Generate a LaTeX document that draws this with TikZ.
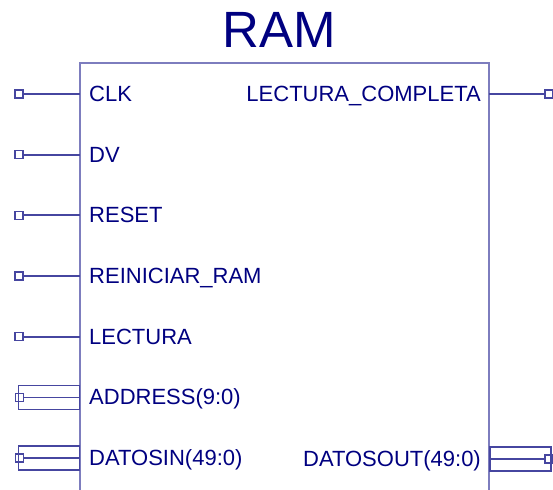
\documentclass[tikz,border=0pt]{standalone}
\usepackage{fontspec}
\setmainfont{Liberation Sans}
\usetikzlibrary{positioning}
\definecolor{pintext}{RGB}{0,0,128}
\definecolor{boxline}{RGB}{125,125,190}
\definecolor{pinline}{RGB}{70,70,160}
\tikzset{
	pinlabel/.style={text=pintext,font=\fontsize{22}{22}\selectfont,inner sep=0pt},
	pinsq/.style={draw=pinline,line width=1.4pt,minimum size=8pt,inner sep=0pt},
	wire/.style={pinline,line width=1.7pt},
	busbox/.style={draw=pinline,line width=1.5pt,minimum width=61pt,minimum height=24pt,inner sep=0pt},
}

\begin{document}
\begin{tikzpicture}[x=1pt,y=-1pt]
	\useasboundingbox (0,0) rectangle (553,489);
	\clip (0,0) rectangle (553,489);
	\draw[boxline,line width=2.4pt] (80,495) -- (80,63) -- (489,63) -- (489,495);
	\node[text=pintext,font=\fontsize{51}{51}\selectfont,inner sep=0pt] (title) at (279,30) {RAM};
	\foreach \lbl [count=\i] in {CLK,DV,RESET,REINICIAR\_RAM,LECTURA} {
		\pgfmathsetmacro{\y}{94+60.67*(\i-1)}
		\node[pinsq] (p\i) at (19,\y) {};
		\coordinate (e\i) at (80,\y);
		\draw[wire] (p\i) -- (e\i);
		\node[pinlabel,anchor=base west] (l\i) at (89,\y+7.5) {\lbl};}
	\foreach \lbl [count=\i from 6] in {ADDRESS(9:0),DATOSIN(49:0)} {
		\pgfmathsetmacro{\y}{94+60.67*(\i-1)}
		\node[busbox,anchor=east] (b\i) at (80,\y) {};
		\node[pinsq] (p\i) at (19.5,\y) {};
		\draw[wire] (p\i) -- (b\i.east);
		\node[pinlabel,anchor=base west] (l\i) at (89,\y+7.5) {\lbl};}
	\node[pinsq] (plc) at (549,94) {};
	\coordinate (elc) at (489,94);
	\draw[wire] (elc) -- (plc);
	\node[pinlabel,anchor=base east] (llc) at (481,101.5) {LECTURA\_COMPLETA};
	\node[busbox,anchor=west] (bdo) at (489,459) {};
	\node[pinsq] (pdo) at (549,459) {};
	\draw[wire] (bdo.west) -- (pdo);
	\node[pinlabel,anchor=base east] (ldo) at (481,466.5) {DATOSOUT(49:0)};
\end{tikzpicture}
\end{document}
